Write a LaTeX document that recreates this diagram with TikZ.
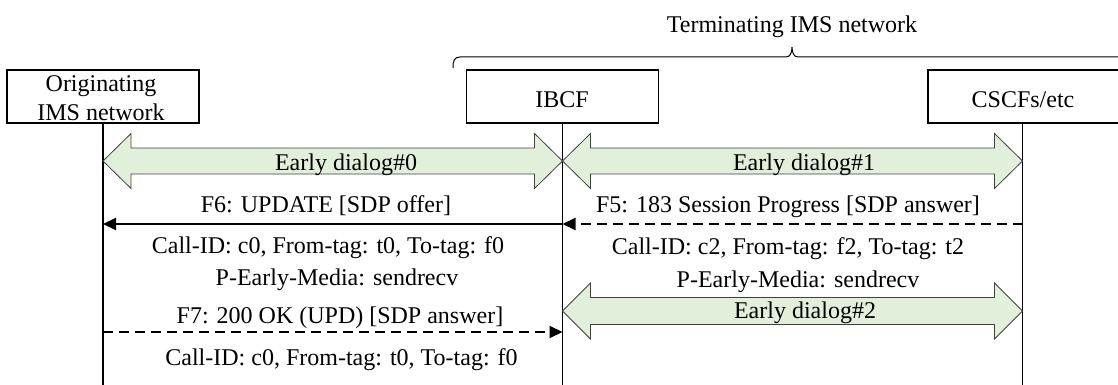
\documentclass[tikz,border=0pt]{standalone}
\usepackage{fontspec}
\setmainfont{Liberation Serif}
\usetikzlibrary{arrows.meta,calc}
\definecolor{dlggreen}{HTML}{E2EFDA}
\definecolor{dlgline}{HTML}{404040}
\begin{document}
\begin{tikzpicture}[x=1pt,y=-1pt,
  every node/.style={font=\fontsize{24}{28}\selectfont, inner sep=0pt},
  ent/.style={draw,line width=1.8pt,minimum width=192pt,minimum height=53pt},
  life/.style={line width=1.4pt},
  msg/.style={line width=2pt,-{Triangle[length=13pt,width=12pt]}},
  dmsg/.style={msg,dash pattern=on 10pt off 6pt},
  dlg/.style={draw=dlgline,line width=0.8pt,fill=dlggreen,line join=miter},
  lbl/.style={anchor=base},
  brc/.style={line width=1pt},
]
\useasboundingbox (0,0) rectangle (1118,385);
\coordinate (bot) at (0,390);
% entities
\node[ent] (orig) at (103,96.5) {};
\node[ent] (ibcf) at (562.5,96.5) {};
\node[ent,minimum width=204pt,anchor=west] (cscf) at (927,96.5) {};
\coordinate (cscfs) at ($(cscf.south west)+(95.5,0)$);
\node[lbl] (origt1) at (101,92) {Originating};
\node[lbl] (origt2) at (101,121) {IMS network};
\node[lbl] (ibcft) at (562,108) {IBCF};
\node[lbl] (cscft) at (1023,108) {CSCFs/etc};
% lifelines
\draw[life] (orig.south) -- (orig.south |- bot);
\draw[life] (ibcf.south) -- (ibcf.south |- bot);
\draw[life] (cscfs) -- (cscfs |- bot);
% brace
\node[lbl] (term) at (792,33) {Terminating IMS network};
\draw[brc] (453,68) .. controls (453,61) and (454,57) .. (460,57) -- (786,57)
  .. controls (790,57) and (792,53) .. (792,47)
  .. controls (792,53) and (794,57) .. (798,57) -- (1131,57);
% lifeline points
\coordinate (o0) at (orig.south |- 0,161);
\coordinate (i0) at (ibcf.south |- 0,161);
\coordinate (c0) at (cscfs |- 0,161);
\coordinate (i2) at (ibcf.south |- 0,311);
\coordinate (c2) at (cscfs |- 0,311);
\coordinate (o6) at (orig.south |- 0,224);
\coordinate (i6) at (ibcf.south |- 0,224);
\coordinate (c5) at (cscfs |- 0,224);
\coordinate (o7) at (orig.south |- 0,332);
\coordinate (i7) at (ibcf.south |- 0,332);
% early dialogs
\draw[dlg] (o0) -- ++(28,-27.5) -- ++(0,14.5) -- ($(i0)+(-28,-13)$) -- ++(0,-14.5) -- (i0)
  -- ++(-28,27.5) -- ++(0,-14.5) -- ($(o0)+(28,13)$) -- ++(0,14.5) -- cycle;
\draw[dlg] (i0) -- ++(28,-27.5) -- ++(0,14.5) -- ($(c0)+(-28,-13)$) -- ++(0,-14.5) -- (c0)
  -- ++(-28,27.5) -- ++(0,-14.5) -- ($(i0)+(28,13)$) -- ++(0,14.5) -- cycle;
\draw[dlg] (i2) -- ++(28,-28) -- ++(0,14.5) -- ($(c2)+(-28,-13.5)$) -- ++(0,-14.5) -- (c2)
  -- ++(-28,28) -- ++(0,-14.5) -- ($(i2)+(28,13.5)$) -- ++(0,14.5) -- cycle;
\node[lbl] (d0) at (346,170) {Early dialog\#0};
\node[lbl] (d1) at (804,170) {Early dialog\#1};
\node[lbl] (d2) at (805,318) {Early dialog\#2};
% messages
\draw[msg] (i6) -- (o6);
\draw[dmsg] (c5) -- (i6);
\draw[dmsg] (o7) -- (i7);
\node[lbl] (f6) at (326,212) {F6: UPDATE [SDP offer]};
\node[lbl] (f6a) at (328,253) {Call-ID: c0, From-tag: t0, To-tag: f0};
\node[lbl] (f6b) at (337,285) {P-Early-Media: sendrecv};
\node[lbl] (f7) at (340,323) {F7: 200 OK (UPD) [SDP answer]};
\node[lbl] (f7a) at (341.5,365) {Call-ID: c0, From-tag: t0, To-tag: f0};
\node[lbl] (f5) at (788,212) {F5: 183 Session Progress [SDP answer]};
\node[lbl] (f5a) at (788,254) {Call-ID: c2, From-tag: f2, To-tag: t2};
\node[lbl] (f5b) at (798,287) {P-Early-Media: sendrecv};
\end{tikzpicture}
\end{document}
